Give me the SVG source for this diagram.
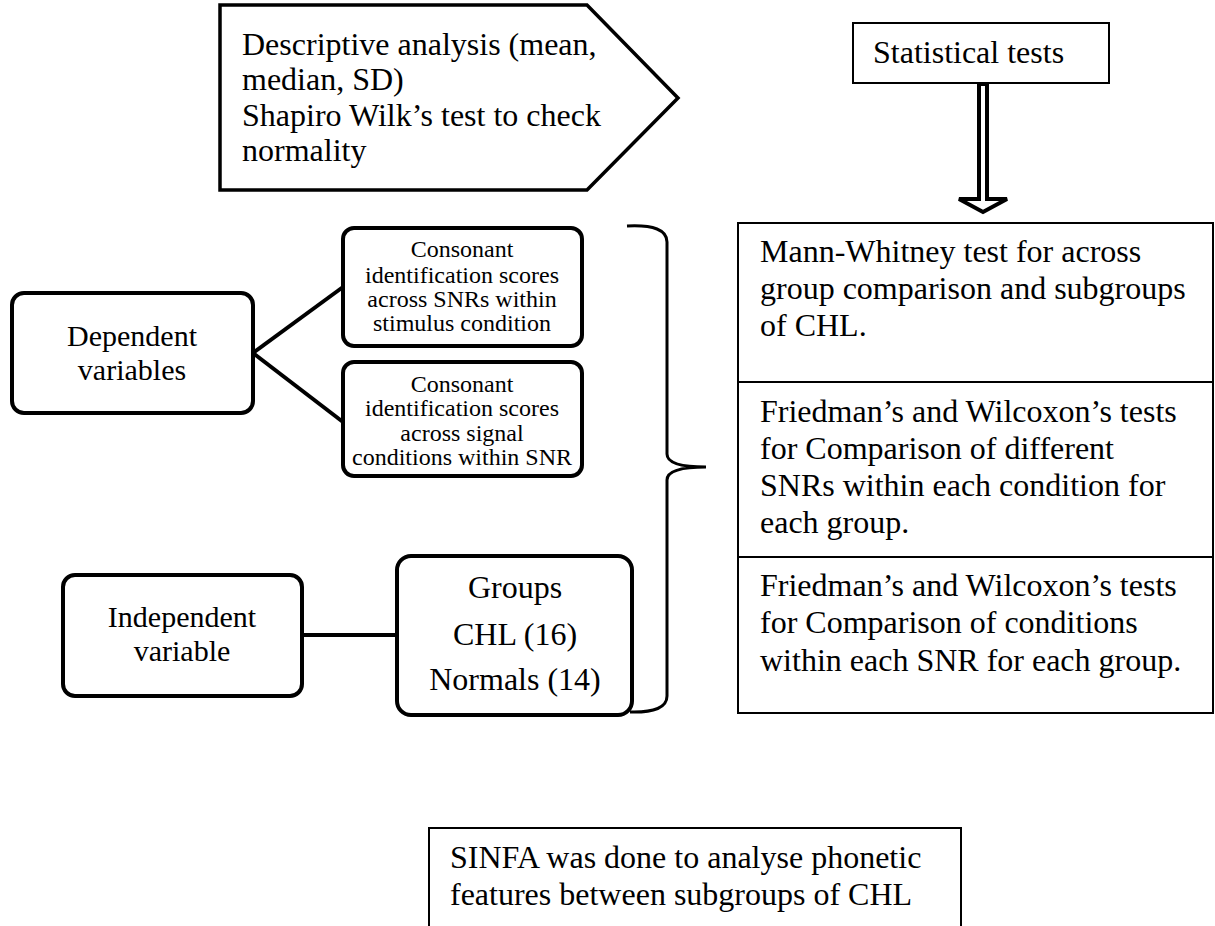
<svg xmlns="http://www.w3.org/2000/svg" width="1215" height="926" viewBox="0 0 1215 926">
<style>
text{font-family:"Liberation Serif","Times New Roman",serif;fill:#000}
.t32{font-size:32px}
.t30{font-size:30px}
.t24{font-size:24px}
.mid{text-anchor:middle}
.rb{fill:#fff;stroke:#000;stroke-width:4}
.sq{fill:#fff;stroke:#000;stroke-width:2}
.ln{fill:none;stroke:#000;stroke-width:4}
</style>
<rect width="1215" height="926" fill="#fff"/>
<g id="connectors">
<line class="ln" x1="253" y1="353" x2="343" y2="287"/>
<line class="ln" x1="253" y1="353" x2="343" y2="422"/>
<line class="ln" x1="302" y1="635" x2="397" y2="635"/>
<path d="M627,226 Q667,224 667,242 L667,454 Q667,467 706,467 Q667,467 667,480 L667,696 Q667,713 630,712" fill="none" stroke="#000" stroke-width="3"/>
<polygon points="979,84 987,84 987,199 1007,199 983,212 959,199 979,199" fill="#fff" stroke="#000" stroke-width="4" stroke-linejoin="miter"/>
</g>
<g id="descriptive">
<path d="M220,5 L587,5 L678,98 L587,190 L220,190 Z" fill="#fff" stroke="#000" stroke-width="3.5"/>
<text class="t32" x="242" y="55">Descriptive analysis (mean,</text>
<text class="t32" x="242" y="90">median, SD)</text>
<text class="t32" x="242" y="126">Shapiro Wilk’s test to check</text>
<text class="t32" x="242" y="161">normality</text>
</g>
<g id="statistical-tests">
<rect class="sq" x="853" y="23" width="256" height="60"/>
<text class="t32" x="873" y="63">Statistical tests</text>
</g>
<g id="dependent">
<rect class="rb" x="12" y="293" width="241" height="120" rx="12"/>
<text class="t30 mid" x="132" y="346">Dependent</text>
<text class="t30 mid" x="132" y="380">variables</text>
</g>
<g id="consonant-snr">
<rect class="rb" x="343" y="228" width="239" height="118" rx="11"/>
<text class="t24 mid" x="462" y="257">Consonant</text>
<text class="t24 mid" x="462" y="283">identification scores</text>
<text class="t24 mid" x="462" y="307">across SNRs within</text>
<text class="t24 mid" x="462" y="331">stimulus condition</text>
</g>
<g id="consonant-signal">
<rect class="rb" x="343" y="362" width="239" height="114" rx="11"/>
<text class="t24 mid" x="462" y="392">Consonant</text>
<text class="t24 mid" x="462" y="416">identification scores</text>
<text class="t24 mid" x="462" y="441">across signal</text>
<text class="t24 mid" x="462" y="465">conditions within SNR</text>
</g>
<g id="independent">
<rect class="rb" x="63" y="575" width="239" height="121" rx="12"/>
<text class="t30 mid" x="182" y="627">Independent</text>
<text class="t30 mid" x="182" y="661">variable</text>
</g>
<g id="groups">
<rect class="rb" x="397" y="556" width="235" height="159" rx="14"/>
<text class="t32 mid" x="515" y="598">Groups</text>
<text class="t32 mid" x="515" y="645">CHL (16)</text>
<text class="t32 mid" x="515" y="690">Normals (14)</text>
</g>
<g id="tests-table">
<rect class="sq" x="738" y="223" width="475" height="490"/>
<line x1="738" y1="382" x2="1213" y2="382" stroke="#000" stroke-width="2"/>
<line x1="738" y1="557" x2="1213" y2="557" stroke="#000" stroke-width="2"/>
<text class="t32" x="760" y="262">Mann-Whitney test for across</text>
<text class="t32" x="760" y="299">group comparison and subgroups</text>
<text class="t32" x="760" y="336">of CHL.</text>
<text class="t32" x="760" y="422">Friedman’s and Wilcoxon’s tests</text>
<text class="t32" x="760" y="459">for Comparison of different</text>
<text class="t32" x="760" y="496">SNRs within each condition for</text>
<text class="t32" x="760" y="533">each group.</text>
<text class="t32" x="760" y="596">Friedman’s and Wilcoxon’s tests</text>
<text class="t32" x="760" y="633">for Comparison of conditions</text>
<text class="t32" x="760" y="671">within each SNR for each group.</text>
</g>
<g id="sinfa">
<rect class="sq" x="429" y="828" width="532" height="120"/>
<text class="t32" x="450" y="868">SINFA was done to analyse phonetic</text>
<text class="t32" x="450" y="905">features between subgroups of CHL</text>
</g>
</svg>
